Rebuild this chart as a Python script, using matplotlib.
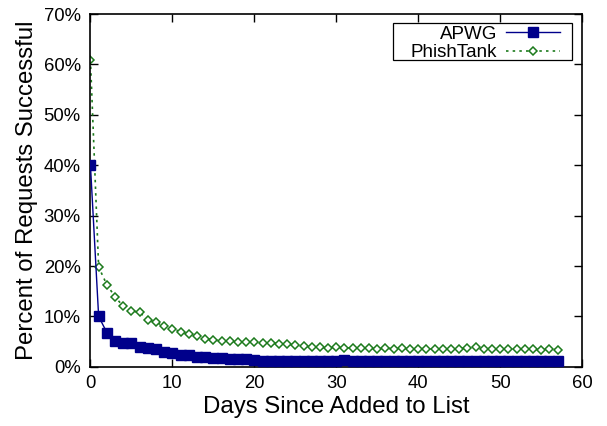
import matplotlib
matplotlib.use("Agg")
import matplotlib.pyplot as plt
from matplotlib.patches import Rectangle
from matplotlib.ticker import FuncFormatter

plt.rcParams['font.family'] = ['Liberation Sans', 'DejaVu Sans']

days = list(range(0, 58))
apwg = [40.0, 10.0, 6.8, 5.2, 4.8, 4.7, 4.0, 3.7, 3.6, 3.0,
        2.7, 2.4, 2.3, 2.0, 2.0, 1.8, 1.8, 1.6, 1.5, 1.5,
        1.4, 1.1, 1.1, 1.1, 1.1, 1.1, 1.1, 1.1, 1.1, 1.1,
        1.1, 1.4, 1.1, 1.1, 1.1, 1.1, 1.1, 1.1, 1.1, 1.1,
        1.1, 1.1, 1.1, 1.1, 1.1, 1.1, 1.1, 1.1, 1.1, 1.1,
        1.1, 1.1, 1.1, 1.1, 1.1, 1.1, 1.1, 1.1]
phishtank = [60.9, 19.8, 16.3, 13.9, 12.0, 11.1, 10.8, 9.3, 8.8, 8.1,
             7.5, 7.0, 6.5, 6.2, 5.6, 5.3, 5.2, 5.1, 5.0, 4.9,
             4.9, 4.8, 4.8, 4.6, 4.5, 4.3, 4.1, 3.9, 3.9, 3.8,
             3.9, 3.8, 3.7, 3.7, 3.7, 3.6, 3.7, 3.6, 3.7, 3.6,
             3.6, 3.6, 3.5, 3.6, 3.5, 3.6, 3.7, 3.9, 3.6, 3.6,
             3.5, 3.6, 3.5, 3.6, 3.5, 3.4, 3.5, 3.4]

fig = plt.figure(figsize=(6.07, 4.26), dpi=100)
ax = fig.add_axes([0.149, 0.139, 0.810, 0.828])

ax.plot(days, apwg, color='#00008b', lw=1.0, marker='s', ms=6.5,
        markeredgecolor='#00008b', markerfacecolor='#00008b', label='APWG', zorder=3)
ax.plot(days, phishtank, color='#1c7a1c', lw=1.2, ls=(0, (1.5, 2.5)), marker='D', ms=4.5,
        markeredgecolor='#1c7a1c', markerfacecolor='white', markeredgewidth=1.1,
        label='PhishTank', zorder=2)

ax.set_xlim(0, 60)
ax.set_ylim(0, 70)
ax.set_xticks(range(0, 61, 10))
ax.set_yticks(range(0, 71, 10))
ax.yaxis.set_major_formatter(FuncFormatter(lambda v, p: f"{int(v)}%"))
ax.tick_params(direction='in', top=True, right=True, length=6, width=1, labelsize=13.3)
ax.tick_params(axis='y', pad=7)
ax.tick_params(axis='x', pad=6)
for s in ax.spines.values():
    s.set_linewidth(1.2)

ax.set_xlabel('Days Since Added to List', fontsize=17.3, labelpad=3)
ax.set_ylabel('Percent of Requests Successful', fontsize=17.3, labelpad=4)

# legend frame (gnuplot style box)
ax.add_patch(Rectangle((0.616, 0.870), 0.364, 0.105, transform=ax.transAxes,
                       facecolor='white', edgecolor='black', lw=0.9, zorder=4))
leg = ax.legend(loc='upper right', bbox_to_anchor=(0.955, 0.967), markerfirst=False,
                fontsize=13.5, frameon=False, borderaxespad=0.0,
                handlelength=2.9, handletextpad=0.45, borderpad=0.0, labelspacing=0.06)
leg.set_zorder(5)
for t in leg.get_texts():
    t.set_ha('right')
leg._legend_box.align = 'right'

fig.savefig('out.png', dpi=100)
